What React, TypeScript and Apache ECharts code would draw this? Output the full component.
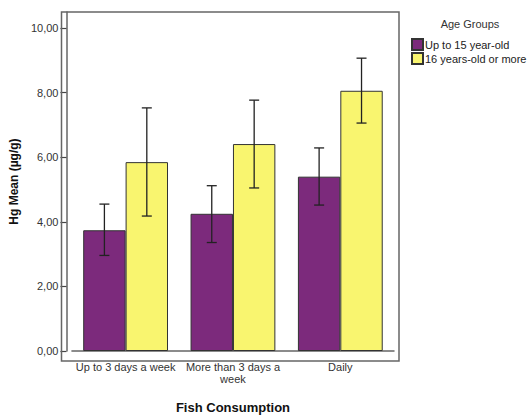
import React, { useEffect, useRef } from "react";
import * as echarts from "echarts";

const categories = ["Up to 3 days a week", "More than 3 days a\nweek", "Daily"];
const seriesNames = ["Up to 15 year-old", "16 years-old or more"];
const youngMeans = [3.74, 4.25, 5.4];
const olderMeans = [5.85, 6.41, 8.06];
const youngLow = [2.96, 3.36, 4.52];
const youngHigh = [4.55, 5.12, 6.29];
const olderLow = [4.18, 5.05, 7.06];
const olderHigh = [7.53, 7.77, 9.07];
const yTicks = [0, 2, 4, 6, 8, 10];

const PURPLE = "#7C2A7C";
const YELLOW = "#F9F56F";
const CAT_GAP = 0.21;

export default function App() {
  const ref = useRef<HTMLDivElement>(null);
  useEffect(() => {
    if (!ref.current) return;
    const chart = echarts.init(ref.current, null, { renderer: "svg" });
    const errData: number[][] = [];
    categories.forEach((_, i) => {
      errData.push([i, youngLow[i], youngHigh[i], 0]);
      errData.push([i, olderLow[i], olderHigh[i], 1]);
    });
    const font = "'Liberation Sans', Arial, sans-serif";
    chart.setOption({
      animation: false,
      textStyle: { fontFamily: font },
      grid: { left: 67, right: 138, top: 12, bottom: 58 },
      graphic: [
        {
          type: "rect",
          shape: { x: 61.5, y: 12, width: 337.5, height: 349 },
          style: { fill: "none", stroke: "#666", lineWidth: 1.5 },
          z: 10,
          silent: true,
        },
        {
          type: "text",
          x: 470,
          y: 24,
          style: {
            text: "Age Groups",
            fontFamily: font,
            fontSize: 11,
            fill: "#333",
            align: "center",
            verticalAlign: "middle",
          },
        },
      ],
      legend: {
        orient: "vertical",
        left: 406,
        top: 33,
        itemWidth: 11,
        itemHeight: 11,
        itemGap: 1,
        icon: "rect",
        textStyle: { fontSize: 11, color: "#222", fontFamily: font, padding: [0, 0, 0, -3] },
        data: seriesNames,
      },
      xAxis: {
        type: "category",
        data: categories,
        axisLine: { lineStyle: { color: "#666", width: 1.5 } },
        axisTick: { alignWithLabel: true, length: 6, lineStyle: { color: "#444", width: 1.2 } },
        axisLabel: { color: "#333", fontSize: 11, margin: 10, lineHeight: 12, interval: 0 },
        name: "Fish Consumption",
        nameLocation: "middle",
        nameGap: 50,
        nameTextStyle: { fontWeight: "bold", fontSize: 13, color: "#111" },
      },
      yAxis: {
        type: "value",
        min: 0,
        max: 10.5,
        offset: 5.5,
        splitLine: { show: false },
        axisLine: { show: true, lineStyle: { color: "#666", width: 1.5 } },
        axisTick: { show: true, length: 6, customValues: yTicks, lineStyle: { color: "#444", width: 1.2 } },
        axisLabel: {
          color: "#333",
          fontSize: 11,
          margin: 8,
          customValues: yTicks,
          formatter: (v: number) => v.toFixed(2).replace(".", ","),
        },
        name: "Hg Mean (µg/g)",
        nameLocation: "middle",
        nameRotate: 90,
        nameGap: 42,
        nameTextStyle: { fontWeight: "bold", fontSize: 12, color: "#111" },
      },
      series: [
        {
          name: seriesNames[0],
          type: "bar",
          data: youngMeans,
          barGap: "0%",
          barCategoryGap: CAT_GAP * 100 + "%",
          itemStyle: { color: PURPLE, borderColor: "#333", borderWidth: 1 },
        },
        {
          name: seriesNames[1],
          type: "bar",
          data: olderMeans,
          itemStyle: { color: YELLOW, borderColor: "#333", borderWidth: 1 },
        },
        {
          type: "custom",
          name: "err",
          data: errData,
          encode: { x: 0, y: [1, 2] },
          z: 5,
          renderItem: (params: any, api: any) => {
            const cat = api.value(0);
            const lo = api.value(1);
            const hi = api.value(2);
            const side = api.value(3);
            const center = api.coord([cat, 0])[0];
            const band = api.size([1, 0])[0];
            const bw = (band * (1 - CAT_GAP)) / 2;
            const x = center + (side === 0 ? -bw / 2 : bw / 2);
            const yTop = api.coord([cat, hi])[1];
            const yBot = api.coord([cat, lo])[1];
            const cap = 5;
            const style = { stroke: "#222", lineWidth: 1.3 };
            return {
              type: "group",
              children: [
                { type: "line", shape: { x1: x, y1: yTop, x2: x, y2: yBot }, style },
                { type: "line", shape: { x1: x - cap, y1: yTop, x2: x + cap, y2: yTop }, style },
                { type: "line", shape: { x1: x - cap, y1: yBot, x2: x + cap, y2: yBot }, style },
              ],
            };
          },
        },
      ],
    });
    return () => chart.dispose();
  }, []);
  return (
    <div
      ref={ref}
      style={{ position: "fixed", left: 0, top: 0, width: 532, height: 419, background: "#fff" }}
    />
  );
}
